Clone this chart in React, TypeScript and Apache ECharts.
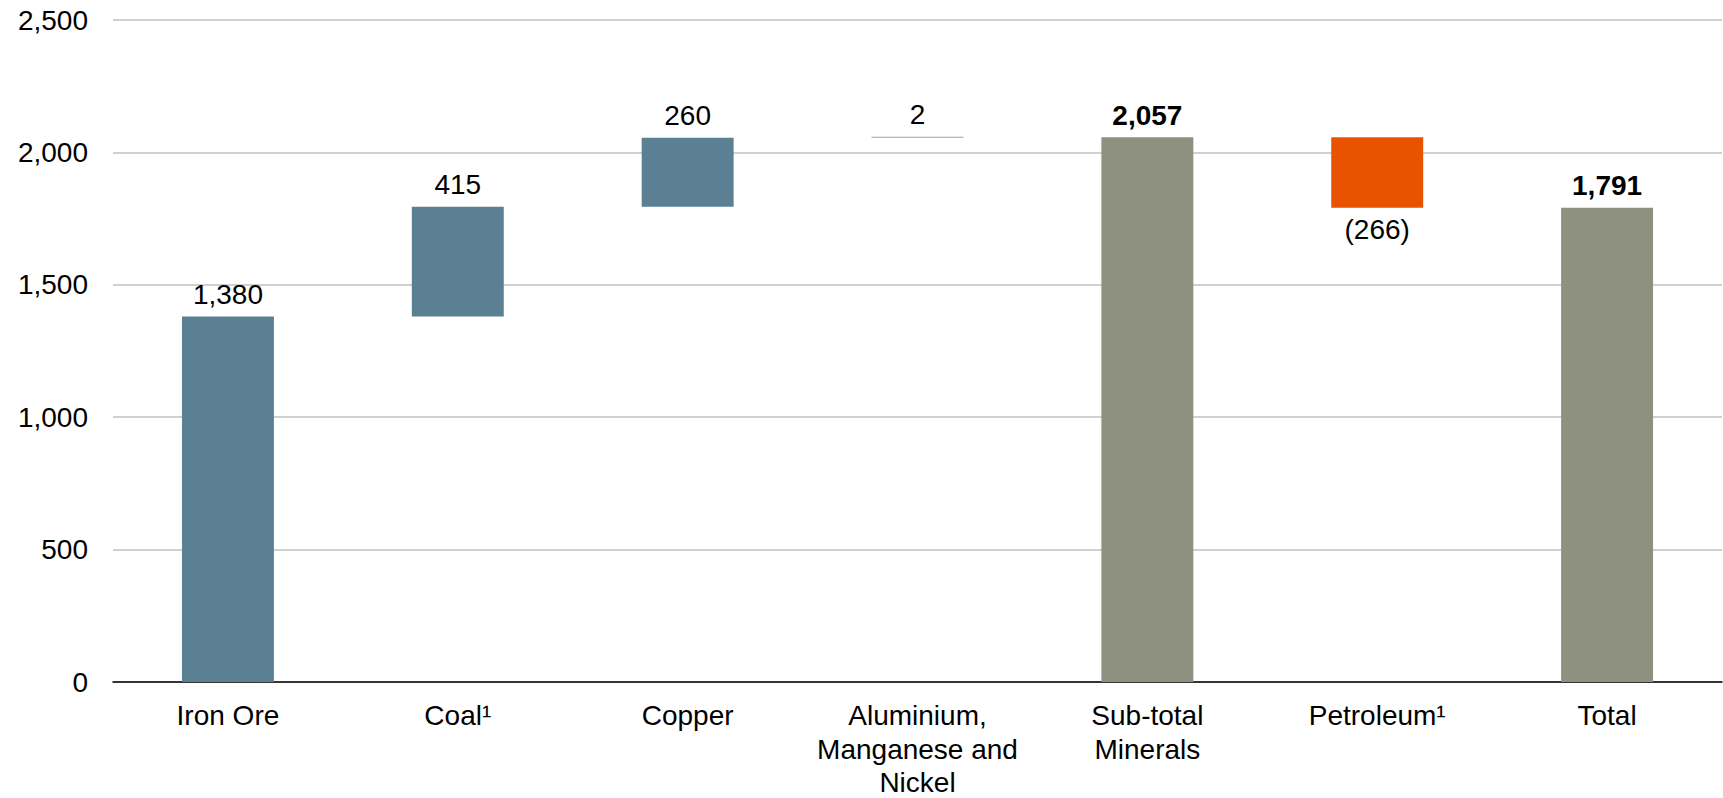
import React, { useEffect, useRef } from "react";
import * as echarts from "echarts";

const categories = [
  "Iron Ore",
  "Coal¹",
  "Copper",
  "Aluminium,\nManganese and\nNickel",
  "Sub-total\nMinerals",
  "Petroleum¹",
  "Total",
];
// signed change for each step; totals flagged separately
const values = [1380, 415, 260, 2, 2057, -266, 1791];
const isTotal = [false, false, false, false, true, false, true];
const yTicks = [0, 500, 1000, 1500, 2000, 2500];

const BLUE = "#5B7F93";
const THIN_BLUE = "#8DA5B3";
const GREY = "#8F9180";
const ORANGE = "#E85200";
const FONT = "'Liberation Sans', Arial, Helvetica, sans-serif";

export default function App() {
  const ref = useRef<HTMLDivElement>(null);

  useEffect(() => {
    if (!ref.current) return;
    const chart = echarts.init(ref.current, undefined, { renderer: "svg" });

    const base: number[] = [];
    const heights: number[] = [];
    let running = 0;
    values.forEach((v, i) => {
      if (isTotal[i]) {
        base.push(0);
        heights.push(v);
        running = v;
      } else if (v >= 0) {
        base.push(running);
        heights.push(v);
        running += v;
      } else {
        running += v;
        base.push(running);
        heights.push(-v);
      }
    });

    const colorFor = (i: number) =>
      isTotal[i] ? GREY : values[i] < 0 ? ORANGE : Math.abs(values[i]) < 10 ? THIN_BLUE : BLUE;

    const fmt = (n: number) => n.toLocaleString("en-US");

    chart.setOption({
      animation: false,
      grid: {
        left: 113,
        right: 1,
        top: 20,
        bottom: 116,
        containLabel: false,
        outerBoundsMode: "none",
      },
      xAxis: {
        type: "category",
        data: categories,
        axisLine: { show: true, lineStyle: { color: "#000", width: 1.5 } },
        axisTick: { show: false },
        axisLabel: {
          interval: 0,
          margin: 17,
          color: "#000",
          fontSize: 28,
          lineHeight: 33.5,
          fontFamily: FONT,
          align: "center",
        },
      },
      yAxis: {
        type: "value",
        min: 0,
        max: 2500,
        interval: 500,
        axisLine: { show: false },
        axisTick: { show: false },
        splitLine: { lineStyle: { color: "#C2C2BA", width: 1.5 } },
        axisLabel: {
          margin: 25,
          color: "#000",
          fontSize: 28,
          fontFamily: FONT,
          formatter: (v: number) => (yTicks.includes(v) ? fmt(v) : ""),
        },
      },
      series: [
        {
          type: "bar",
          stack: "wf",
          data: base,
          itemStyle: { color: "transparent" },
          emphasis: { disabled: true },
          silent: true,
          barWidth: "40%",
        },
        {
          type: "bar",
          stack: "wf",
          barWidth: "40%",
          barMinHeight: 1,
          data: heights.map((h, i) => ({
            value: h,
            itemStyle: { color: colorFor(i) },
            label: {
              show: true,
              position: values[i] < 0 ? "bottom" : "top",
              distance: 8,
              color: "#000",
              fontSize: 28,
              fontFamily: FONT,
              fontWeight: isTotal[i] ? "bold" : "normal",
              formatter: () =>
                values[i] < 0 ? `(${fmt(-values[i])})` : fmt(values[i]),
            },
          })),
        },
      ],
    });

    return () => chart.dispose();
  }, []);

  return (
    <div
      ref={ref}
      style={{ width: 1723, height: 798, position: "absolute", left: 0, top: 0 }}
    />
  );
}
